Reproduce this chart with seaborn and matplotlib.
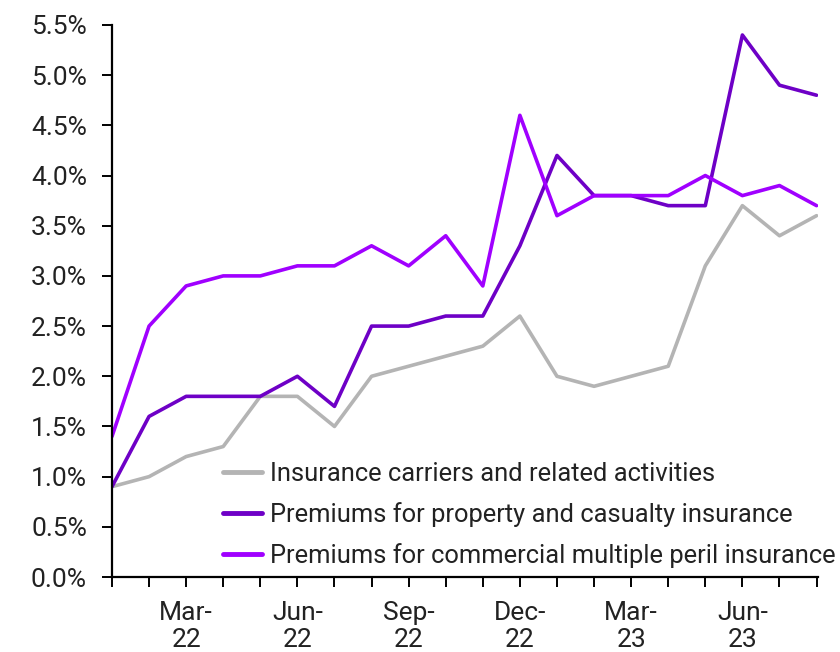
import matplotlib
matplotlib.use("Agg")
import matplotlib.pyplot as plt
import seaborn as sns
import pandas as pd

months = ["Jan-22", "Feb-22", "Mar-22", "Apr-22", "May-22", "Jun-22", "Jul-22", "Aug-22",
          "Sep-22", "Oct-22", "Nov-22", "Dec-22", "Jan-23", "Feb-23", "Mar-23", "Apr-23",
          "May-23", "Jun-23", "Jul-23", "Aug-23"]
carriers = [0.9, 1.0, 1.2, 1.3, 1.8, 1.8, 1.5, 2.0, 2.1, 2.2, 2.3, 2.6, 2.0, 1.9, 2.0, 2.1,
            3.1, 3.7, 3.4, 3.6]
property_casualty = [0.9, 1.6, 1.8, 1.8, 1.8, 2.0, 1.7, 2.5, 2.5, 2.6, 2.6, 3.3, 4.2, 3.8, 3.8,
                     3.7, 3.7, 5.4, 4.9, 4.8]
commercial_peril = [1.4, 2.5, 2.9, 3.0, 3.0, 3.1, 3.1, 3.3, 3.1, 3.4, 2.9, 4.6, 3.6, 3.8, 3.8,
                    3.8, 4.0, 3.8, 3.9, 3.7]
series_names = ["Insurance carriers and related activities",
                "Premiums for property and casualty insurance",
                "Premiums for commercial multiple peril insurance"]
tick_labels = {2: "Mar-\n22", 5: "Jun-\n22", 8: "Sep-\n22", 11: "Dec-\n22", 14: "Mar-\n23", 17: "Jun-\n23"}

colors = ["#B4B4B4", "#6E00C6", "#A000FF"]

rows = []
for name, vals in zip(series_names, [carriers, property_casualty, commercial_peril]):
    for i, v in enumerate(vals):
        rows.append({"idx": i, "value": v, "series": name})
df = pd.DataFrame(rows)

sns.set_theme(style="ticks")
plt.rcParams["font.family"] = ["Roboto", "DejaVu Sans"]

fig = plt.figure(figsize=(8.4, 6.52), dpi=100)
ax = fig.add_axes([0.1333, 0.115, 0.841, 0.8467])

sns.lineplot(data=df, x="idx", y="value", hue="series", hue_order=series_names,
             palette=colors, linewidth=2.6, ax=ax, legend=True)

ax.set_xlim(0, 19.05)
ax.set_ylim(0, 5.5)
ax.set_yticks([i * 0.5 for i in range(12)])
ax.set_yticklabels([f"{i * 0.5:.1f}%" for i in range(12)], fontsize=19, color="#222222")
ax.set_xticks(list(range(len(months))))
ax.set_xticklabels([tick_labels.get(i, "") for i in range(len(months))], fontsize=19,
                   color="#222222", linespacing=1.2)
ax.tick_params(axis="both", direction="out", length=7, width=1.4, color="black")
ax.tick_params(axis="x", pad=10)
ax.tick_params(axis="y", pad=11)
ax.set_xlabel("")
ax.set_ylabel("")
for s in ["top", "right"]:
    ax.spines[s].set_visible(False)
for s in ["left", "bottom"]:
    ax.spines[s].set_linewidth(1.6)
    ax.spines[s].set_color("black")

leg = ax.legend(loc="upper left", bbox_to_anchor=(0.157, 0.208), frameon=False, fontsize=18.4,
                handlelength=1.55, handletextpad=0.3, labelspacing=0.62, borderaxespad=0,
                borderpad=0)
for line in leg.get_lines():
    line.set_linewidth(3.5)
for t in leg.get_texts():
    t.set_color("#222222")

fig.savefig("out.png", dpi=100)
